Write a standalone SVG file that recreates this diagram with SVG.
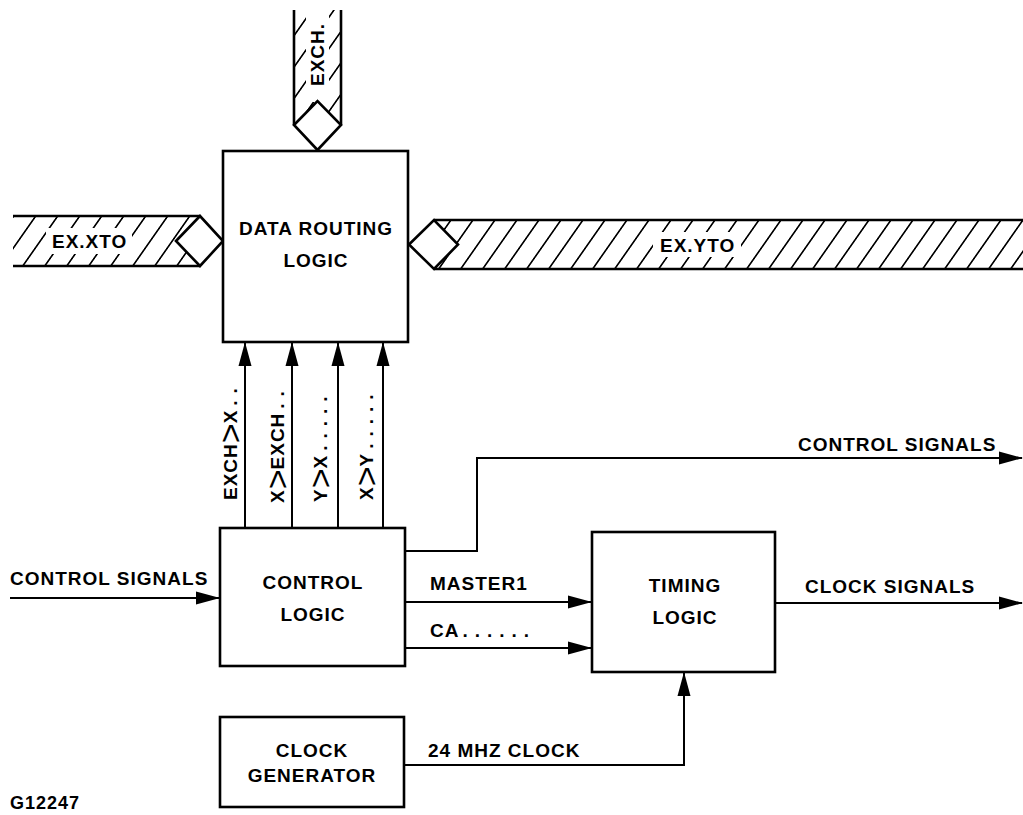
<svg xmlns="http://www.w3.org/2000/svg" width="1023" height="815" viewBox="0 0 1023 815">
<style>
  .box{fill:#fff;stroke:#000;stroke-width:2.6}
  .t{font-family:"Liberation Sans",Arial,sans-serif;font-weight:bold;font-size:19px;letter-spacing:1px;fill:#000}
  .c{text-anchor:middle}
  .ln{fill:none;stroke:#000;stroke-width:2}
  .bus{fill:none;stroke:#000;stroke-width:2.6}
  .dia{fill:#fff;stroke:#000;stroke-width:2.6;stroke-linejoin:miter}
  .gt{font-weight:normal;font-size:34px;letter-spacing:0}
  .dots{letter-spacing:7px}
</style>
<defs>
  <pattern id="hatch" patternUnits="userSpaceOnUse" width="22" height="10" patternTransform="skewX(-35)">
    <line x1="11" y1="-1" x2="11" y2="11" stroke="#000" stroke-width="2"/>
  </pattern>
  <marker id="ah" markerWidth="24" markerHeight="14" refX="23" refY="7" orient="auto" markerUnits="userSpaceOnUse">
    <path d="M0,0.5 L24,7 L0,13.5 Z" fill="#000"/>
  </marker>
</defs>
<rect width="1023" height="815" fill="#fff"/>

<g id="bus-exch">
  <rect x="294" y="10" width="47" height="116" fill="url(#hatch)"/>
  <rect x="306" y="10" width="23" height="92" fill="#fff"/>
  <path class="bus" d="M294,10 V125 M341,10 V125"/>
  <polygon class="dia" points="294,125 317.5,101 341,125 317.5,150"/>
  <text class="t" transform="translate(324,86) rotate(-90)">EXCH.</text>
</g>

<g id="bus-xto">
  <rect x="13" y="216" width="187" height="50" fill="url(#hatch)"/>
  <rect x="46" y="228" width="86" height="26" fill="#fff"/>
  <path class="bus" d="M13,216 H200 M13,266 H200"/>
  <polygon class="dia" points="176,241 200,216 223,241 200,266"/>
  <text class="t" x="52" y="248">EX.XTO</text>
</g>

<g id="bus-yto">
  <rect x="434" y="220" width="589" height="49" fill="url(#hatch)"/>
  <rect x="653" y="232" width="88" height="25" fill="#fff"/>
  <path class="bus" d="M434,220 H1023 M434,269 H1023"/>
  <polygon class="dia" points="409,244.5 434,220 458,244.5 434,269"/>
  <text class="t" x="660" y="252">EX.YTO</text>
</g>

<g id="data-routing">
  <rect class="box" x="223" y="151" width="185" height="191"/>
  <text class="t c" x="316" y="235">DATA ROUTING</text>
  <text class="t c" x="316" y="267">LOGIC</text>
</g>

<g id="control-logic">
  <rect class="box" x="220" y="528" width="185" height="138"/>
  <text class="t c" x="313" y="589">CONTROL</text>
  <text class="t c" x="313" y="621">LOGIC</text>
</g>

<g id="timing-logic">
  <rect class="box" x="592" y="532" width="183" height="140"/>
  <text class="t c" x="685" y="592">TIMING</text>
  <text class="t c" x="685" y="624">LOGIC</text>
</g>

<g id="clock-generator">
  <rect class="box" x="220" y="717" width="184" height="90"/>
  <text class="t c" x="312" y="757">CLOCK</text>
  <text class="t c" x="312" y="782">GENERATOR</text>
</g>

<g id="connectors">
  <path class="ln" d="M245,528 V343" marker-end="url(#ah)"/>
  <path class="ln" d="M292,528 V343" marker-end="url(#ah)"/>
  <path class="ln" d="M338,528 V343" marker-end="url(#ah)"/>
  <path class="ln" d="M383,528 V343" marker-end="url(#ah)"/>
  <path class="ln" d="M10,598 H219" marker-end="url(#ah)"/>
  <path class="ln" d="M405,551 H477 V458 H1022" marker-end="url(#ah)"/>
  <path class="ln" d="M405,602 H591" marker-end="url(#ah)"/>
  <path class="ln" d="M405,648 H591" marker-end="url(#ah)"/>
  <path class="ln" d="M775,603 H1022" marker-end="url(#ah)"/>
  <path class="ln" d="M404,765 H684 V673" marker-end="url(#ah)"/>
</g>

<g id="labels">
  <text class="t" transform="translate(237,500) rotate(-90)">EXCH<tspan class="gt" dy="5">&gt;</tspan><tspan dy="-5">X</tspan><tspan class="dots" dx="4">..</tspan></text>
  <text class="t" transform="translate(284,503) rotate(-90)">X<tspan class="gt" dy="5">&gt;</tspan><tspan dy="-5">EXCH</tspan><tspan class="dots" dx="4">..</tspan></text>
  <text class="t" transform="translate(327,502) rotate(-90)">Y<tspan class="gt" dy="5">&gt;</tspan><tspan dy="-5">X</tspan><tspan class="dots" dx="4">.....</tspan></text>
  <text class="t" transform="translate(373,500) rotate(-90)">X<tspan class="gt" dy="5">&gt;</tspan><tspan dy="-5">Y</tspan><tspan class="dots" dx="4">.....</tspan></text>
  <text class="t" x="10" y="585">CONTROL SIGNALS</text>
  <text class="t" x="798" y="451">CONTROL SIGNALS</text>
  <text class="t" x="430" y="590">MASTER1</text>
  <text class="t" x="430" y="637">CA<tspan class="dots" dx="3">......</tspan></text>
  <text class="t" x="805" y="593">CLOCK SIGNALS</text>
  <text class="t" x="428" y="757">24 MHZ CLOCK</text>
  <text class="t" x="10" y="809" style="font-size:18px">G12247</text>
</g>
</svg>
